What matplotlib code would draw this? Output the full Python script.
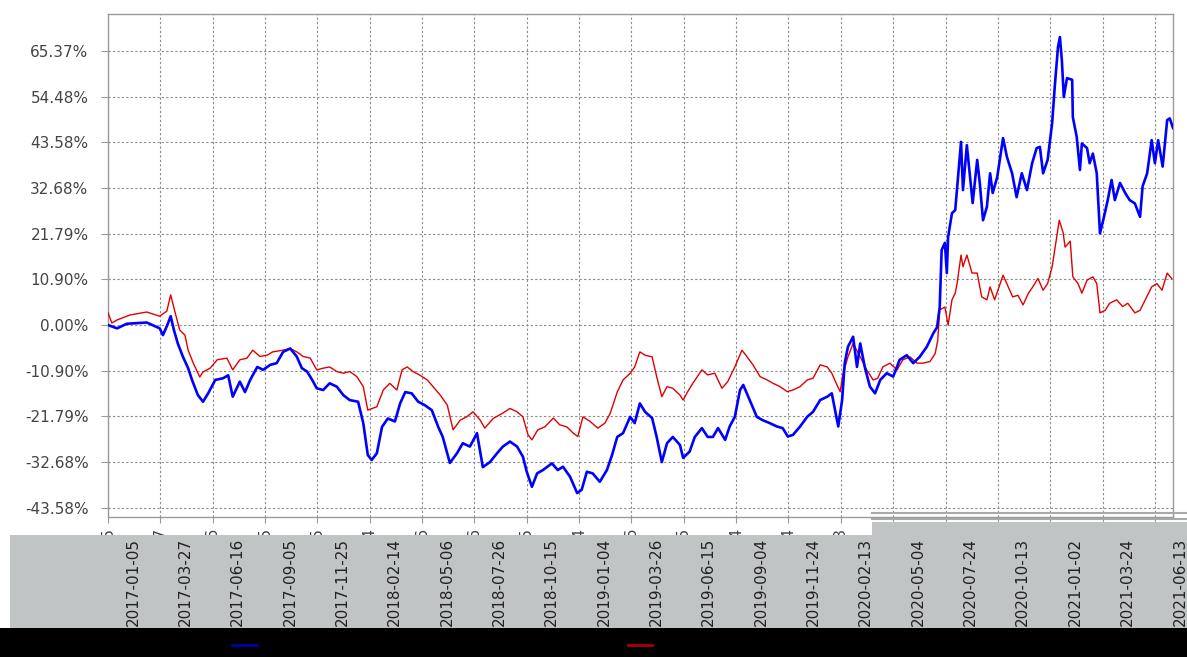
import matplotlib
matplotlib.use('agg')
import matplotlib.pyplot as plt
from matplotlib.lines import Line2D
from matplotlib.patches import Rectangle
from matplotlib.transforms import ScaledTranslation, blended_transform_factory
import pandas as pd

# Data: cumulative return (%), days counted from 2017-01-05
start = pd.Timestamp('2017-01-05')

blue_day = [0, 14, 29, 60, 80, 85, 91, 97, 102, 108, 116, 124, 130, 139, 147, 155, 166, 178, 186, 193,
            204, 212, 220, 231, 240, 251, 261, 271, 282, 292, 300, 308, 316, 323, 333, 343, 354, 364, 374, 387,
            395, 402, 408, 416, 424, 433, 444, 452, 460, 470, 480, 490, 501, 511, 518, 529, 540, 549, 560, 571,
            580, 591, 602, 611, 622, 633, 642, 648, 656, 664, 673, 687, 696, 704, 715, 726, 733, 741, 750, 761,
            772, 780, 788, 797, 808, 815, 823, 831, 842, 849, 857, 865, 874, 885, 890, 900, 908, 919, 928, 936,
            944, 955, 962, 970, 978, 983, 993, 1004, 1013, 1024, 1035, 1044, 1052, 1060, 1071, 1082, 1091, 1102,
            1113, 1120, 1125, 1130, 1136, 1140, 1145, 1153, 1159, 1164, 1171, 1179, 1187, 1195, 1205, 1215, 1225,
            1236, 1246, 1256, 1267, 1277, 1283, 1287, 1290, 1295, 1298, 1300, 1306, 1311, 1315, 1320, 1323, 1329,
            1334, 1338, 1345, 1349, 1354, 1360, 1365, 1369, 1376, 1385, 1391, 1399, 1406, 1414, 1422, 1430, 1437,
            1442, 1447, 1454, 1461, 1465, 1470, 1473, 1476, 1479, 1484, 1492, 1493, 1499, 1504, 1507, 1515, 1519,
            1524, 1530, 1535, 1540, 1547, 1553, 1558, 1566, 1574, 1581, 1589, 1597, 1601, 1608, 1615, 1620, 1625,
            1632, 1639, 1643, 1648]
blue_pct = [0.0, -0.8, 0.3, 0.6, -0.8, -2.4, -0.3, 2.1, -1.2, -4.4, -7.6, -10.3, -13.1, -16.7, -18.3, -16.3,
            -13.1, -12.7, -12.0, -17.1, -13.5, -16.0, -13.1, -10.0, -10.7, -9.5, -9.1, -6.4, -5.6, -7.5, -10.3,
            -11.1, -13.1, -15.1, -15.5, -13.9, -14.7, -16.7, -17.9, -18.3, -23.4, -31.0, -32.2, -30.6, -24.3,
            -22.3, -23.0, -18.7, -16.0, -16.3, -18.3, -19.1, -20.3, -24.3, -26.7, -32.9, -30.6, -28.2, -29.0,
            -25.8, -33.9, -32.7, -30.6, -29.0, -27.8, -29.0, -31.4, -35.0, -38.6, -35.4, -34.6, -33.0, -34.6,
            -33.8, -36.2, -40.1, -39.3, -35.0, -35.4, -37.4, -34.6, -31.0, -26.7, -25.8, -21.9, -23.4, -18.7,
            -20.7, -22.2, -26.7, -32.7, -28.2, -26.7, -28.6, -31.7, -30.2, -26.7, -24.6, -26.7, -26.7, -24.6,
            -27.4, -24.2, -21.9, -15.5, -14.3, -17.9, -21.9, -22.7, -23.4, -24.2, -24.6, -26.6, -26.2, -24.2,
            -21.9, -20.7, -17.9, -17.1, -16.3, -20.3, -24.2, -17.9, -9.1, -5.2, -2.8, -10.0, -4.4, -10.0, -14.7,
            -16.3, -13.1, -11.5, -12.3, -8.3, -7.2, -9.1, -7.6, -5.2, -2.0, -0.5, 4.3, 17.9, 19.6, 12.4, 21.0,
            26.7, 27.4, 34.6, 43.7, 32.2, 42.9, 35.3, 29.1, 39.4, 33.9, 25.0, 28.2, 36.2, 31.5, 35.3, 44.6, 40.1,
            36.2, 30.5, 36.2, 32.2, 38.6, 42.2, 42.5, 36.2, 39.4, 48.2, 56.8, 66.3, 68.7, 63.2, 54.4, 58.9, 58.5,
            49.6, 44.9, 37.0, 43.3, 42.2, 38.6, 40.9, 36.2, 21.9, 25.0, 29.8, 34.6, 29.8, 33.9, 31.5, 29.8, 29.0,
            25.8, 33.1, 36.2, 44.1, 38.6, 44.1, 37.8, 48.9, 49.3, 47.0]

red_day = [0, 6, 14, 34, 60, 80, 91, 97, 104, 111, 119, 124, 132, 142, 147, 158, 169, 184, 193, 204, 215,
           224, 235, 246, 255, 271, 282, 292, 302, 313, 323, 333, 343, 354, 364, 374, 385, 395, 402, 416, 426,
           436, 447, 455, 463, 472, 483, 494, 503, 514, 525, 534, 545, 555, 565, 576, 583, 596, 610, 622, 633,
           642, 650, 656, 665, 676, 689, 699, 710, 720, 727, 735, 746, 758, 769, 777, 788, 797, 808, 815, 823,
           831, 842, 849, 857, 865, 874, 885, 890, 897, 905, 919, 928, 939, 950, 959, 970, 981, 989, 998, 1009,
           1020, 1029, 1040, 1051, 1060, 1071, 1082, 1091, 1102, 1113, 1120, 1128, 1133, 1137, 1145, 1153, 1164,
           1174, 1184, 1191, 1199, 1210, 1221, 1230, 1241, 1252, 1261, 1272, 1280, 1284, 1287, 1295, 1300, 1306,
           1311, 1314, 1320, 1323, 1329, 1337, 1345, 1352, 1360, 1365, 1372, 1377, 1385, 1393, 1400, 1408, 1416,
           1424, 1431, 1439, 1447, 1454, 1461, 1468, 1472, 1478, 1481, 1489, 1493, 1501, 1507, 1515, 1524, 1530,
           1535, 1543, 1550, 1561, 1570, 1578, 1589, 1597, 1605, 1615, 1623, 1631, 1639, 1646]
red_pct = [2.9, 0.5, 1.2, 2.4, 3.1, 2.1, 3.3, 7.2, 2.9, -1.2, -2.4, -6.0, -9.1, -12.4, -11.2, -10.3, -8.3,
           -7.9, -10.7, -8.3, -7.9, -6.0, -7.5, -7.2, -6.4, -6.0, -5.6, -6.4, -7.5, -7.9, -10.7, -10.3, -10.0,
           -11.1, -11.5, -11.1, -12.3, -14.7, -20.3, -19.5, -15.5, -13.9, -15.5, -10.7, -10.0, -11.1, -12.0,
           -13.1, -14.7, -16.7, -19.1, -25.0, -22.7, -21.9, -20.7, -22.7, -24.6, -22.3, -21.1, -19.9, -20.7,
           -21.9, -26.2, -27.4, -25.0, -24.3, -22.2, -23.8, -24.3, -25.8, -26.6, -21.9, -23.0, -24.6, -23.4,
           -21.1, -16.0, -13.1, -11.5, -10.0, -6.4, -7.2, -7.6, -12.3, -17.1, -14.7, -15.1, -16.7, -17.9, -15.9,
           -13.9, -10.7, -11.9, -11.5, -15.1, -13.5, -10.0, -6.0, -7.6, -9.5, -12.3, -13.1, -13.9, -14.7, -15.9,
           -15.5, -14.7, -13.1, -12.7, -9.5, -10.0, -11.5, -14.3, -15.9, -11.9, -7.6, -4.4, -7.6, -10.7, -13.1,
           -12.7, -10.0, -9.1, -10.7, -8.3, -7.6, -9.1, -9.1, -8.7, -6.8, -3.6, 3.6, 4.3, 0.0, 6.0, 7.6, 10.0,
           16.7, 13.9, 16.7, 12.4, 12.4, 6.7, 6.0, 9.1, 6.0, 8.3, 11.9, 9.1, 6.7, 7.1, 4.8, 7.5, 9.1, 11.1, 8.3,
           9.9, 13.9, 21.0, 25.0, 22.0, 18.6, 20.0, 11.5, 9.9, 7.6, 10.7, 11.5, 9.9, 2.9, 3.5, 5.2, 6.0, 4.4,
           5.2, 2.9, 3.5, 6.0, 9.1, 9.9, 8.3, 12.4, 11.1]

# Axis ticks
tick_dates = pd.date_range('2017-01-05', periods=21, freq='81D')
tick_labels = [d.strftime('%Y-%m-%d') for d in tick_dates]
y_ticks = [-43.58, -32.68, -21.79, -10.90, 0.00, 10.90, 21.79, 32.68, 43.58, 54.48, 65.37]
y_labels = ['-43.58%', '-32.68%', '-21.79%', '-10.90%', '0.00%', '10.90%', '21.79%',
            '32.68%', '43.58%', '54.48%', '65.37%']

blue_dates = start + pd.to_timedelta(blue_day, unit='D')
red_dates = start + pd.to_timedelta(red_day, unit='D')

W, H = 1187, 657
fig = plt.figure(figsize=(W / 100, H / 100), dpi=100)
ax = fig.add_axes([108 / W, 1 - 517 / H, (1173 - 108) / W, (517 - 14) / H])

ax.plot(red_dates, red_pct, color='#e00000', lw=1.0, zorder=3)
ax.plot(blue_dates, blue_pct, color='#0000ff', lw=1.9, zorder=4)

ax.set_xlim(start, start + pd.Timedelta(days=1648))
ax.set_ylim(-45.8, 74.2)

ax.set_yticks(y_ticks)
ax.set_yticklabels(y_labels)
ax.set_xticks(tick_dates)
ax.set_xticklabels(tick_labels, rotation=90, va='top', ha='center')

ax.grid(True, color='#8a8a8a', linestyle=(0, (2, 2)), linewidth=0.8)
for s in ax.spines.values():
    s.set_color('#9a9a9a')
    s.set_linewidth(1.0)
ax.tick_params(axis='y', direction='out', length=5, width=0.8, color='#9a9a9a',
               labelsize=11, labelcolor='#444444', pad=9)
ax.tick_params(axis='x', direction='out', length=4, width=0.8, color='#9a9a9a',
               labelsize=11, labelcolor='#444444', pad=3)

# gray strip over the axis area and black strip at the bottom
fig_tr = fig.transFigure
band = Rectangle((10 / W, 1 - 628 / H), 1 - 10 / W, (628 - 535) / H, transform=fig_tr,
                 facecolor='#c1c4c4', edgecolor='none', clip_on=False, zorder=5)
ax.add_artist(band)
band2 = Rectangle((872 / W, 1 - 535 / H), 1 - 872 / W, (535 - 522) / H, transform=fig_tr,
                  facecolor='#c1c4c4', edgecolor='none', clip_on=False, zorder=5)
ax.add_artist(band2)
for yy in (513, 519):
    ax.add_artist(Line2D([872 / W, 1], [1 - yy / H] * 2, transform=fig_tr, color='#a8a8a8',
                         lw=1.5, clip_on=False, zorder=5))
black = Rectangle((0, 0), 1, (H - 628) / H, transform=fig_tr,
                  facecolor='black', edgecolor='none', clip_on=False, zorder=5)
ax.add_artist(black)

# shifted copy of the date labels inside the gray strip
lab_tr = blended_transform_factory(ax.transData, fig_tr) + ScaledTranslation(0.25, 0, fig.dpi_scale_trans)
for d, lab in zip(tick_dates, tick_labels):
    ax.text(d, 1 - 538 / H, lab, transform=lab_tr, rotation=90, ha='center', va='top',
            fontsize=11, color='#222222', clip_on=False, zorder=6)

# legend swatches in the black strip
ax.add_artist(Line2D([232 / W, 256 / W], [1 - 645 / H] * 2, transform=fig_tr, color='#0000aa',
                     lw=2, clip_on=False, zorder=6))
ax.add_artist(Line2D([628 / W, 652 / W], [1 - 645 / H] * 2, transform=fig_tr, color='#aa0000',
                     lw=2, clip_on=False, zorder=6))

fig.savefig('out.png', dpi=100)
